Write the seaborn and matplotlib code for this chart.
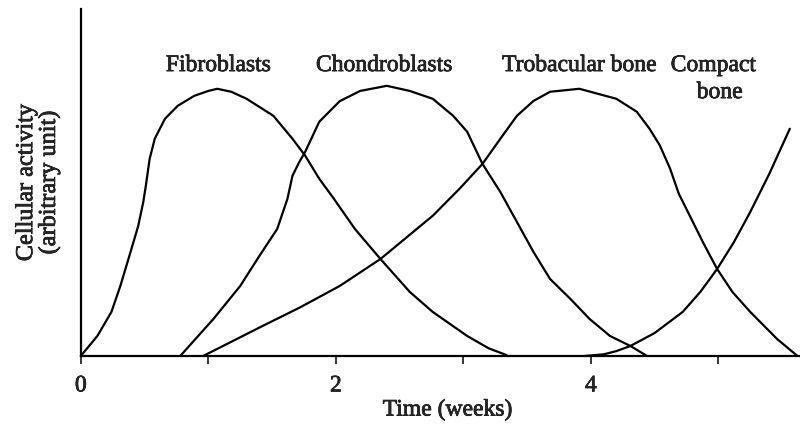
import numpy as np
import pandas as pd
import seaborn as sns
import matplotlib
matplotlib.use("Agg")
import matplotlib.pyplot as plt
import matplotlib.patheffects as pe

# values (time in weeks, activity in arbitrary units)
fibro_t = [0.0, 0.13, 0.24, 0.31, 0.39, 0.45, 0.49, 0.51, 0.54, 0.58, 0.66, 0.76, 0.89,
           1.00, 1.07, 1.18, 1.30, 1.51, 1.66, 1.76, 1.87, 1.98, 2.15, 2.35, 2.58, 2.76,
           3.03, 3.20, 3.34]
fibro_y = [0.0, 7.4, 16.3, 25.9, 38.5, 48.1, 57.0, 63.0, 73.0, 80.4, 87.8, 92.6, 96.3,
           98.1, 98.9, 97.8, 95.2, 88.9, 80.4, 74.1, 65.6, 58.5, 47.0, 35.9, 23.7, 16.3,
           7.4, 2.8, 0.3]

chondro_t = [0.78, 1.04, 1.25, 1.40, 1.54, 1.62, 1.66, 1.71, 1.76, 1.87, 2.03, 2.19,
             2.40, 2.58, 2.76, 2.92, 3.03, 3.15, 3.29, 3.42, 3.55, 3.68, 3.84, 3.99,
             4.15, 4.31, 4.44]
chondro_y = [0.0, 13.7, 25.9, 37.0, 47.0, 58.1, 66.7, 71.5, 75.6, 86.7, 94.3, 98.1,
             100.0, 98.1, 95.2, 88.9, 83.0, 71.1, 60.7, 49.6, 38.5, 28.5, 21.1, 13.7,
             7.4, 3.7, 0.0]

trob_t = [0.96, 1.40, 1.72, 2.03, 2.35, 2.76, 2.97, 3.15, 3.29, 3.42, 3.55, 3.68, 3.91,
          4.20, 4.36, 4.46, 4.54, 4.62, 4.69, 4.78, 4.88, 4.99, 5.11, 5.25, 5.46, 5.62]
trob_y = [0.0, 10.5, 18.0, 25.9, 35.9, 51.9, 61.9, 71.1, 80.4, 88.9, 94.4, 97.8, 98.9,
          95.2, 90.4, 84.1, 78.0, 69.5, 60.0, 51.5, 42.0, 32.2, 23.7, 16.3, 6.3, 0.0]

compact_t = [3.95, 4.10, 4.20, 4.31, 4.50, 4.72, 4.86, 4.99, 5.12, 5.25, 5.40, 5.56]
compact_y = [0.0, 0.6, 1.8, 3.7, 8.5, 16.3, 23.8, 32.2, 42.0, 53.3, 67.5, 84.1]

xtick_pos = [0, 1, 2, 3, 4, 5]
xtick_lab = ["0", "", "2", "", "4", ""]

sns.set_style("ticks")
plt.rcParams['font.family'] = ['Liberation Serif', 'DejaVu Serif']

fig = plt.figure(figsize=(8, 4.27), dpi=100)
ax = fig.add_axes([0.101, 0.164, 0.899, 0.813])

for t, y in [(fibro_t, fibro_y), (chondro_t, chondro_y),
             (trob_t, trob_y), (compact_t, compact_y)]:
    sns.lineplot(x=t, y=y, ax=ax, color="black", linewidth=1.6,
                 sort=False, estimator=None, clip_on=False)

ax.set_xlim(0, 5.64)
ax.set_ylim(0, 128.5)
ax.set_xticks(xtick_pos)
ax.set_xticklabels(xtick_lab)
ax.set_yticks([])
ax.tick_params(axis="x", direction="out", length=6, width=1.3, labelsize=17, pad=8)
for s in ["top", "right"]:
    ax.spines[s].set_visible(False)
for s in ["left", "bottom"]:
    ax.spines[s].set_linewidth(1.6)
    ax.spines[s].set_color("black")

thick = [pe.withStroke(linewidth=0.5, foreground="black")]

ax.set_xlabel("Time (weeks)", fontsize=17, path_effects=thick)
ax.xaxis.set_label_coords(0.51, -0.125)
ax.set_ylabel("Cellular activity\n(arbitrary unit)", fontsize=17.5,
              linespacing=1.1, path_effects=thick)
ax.yaxis.set_label_coords(-0.029, 0.5)
for lab in ax.get_xticklabels():
    lab.set_path_effects(thick)

# curve names
kw = dict(ha="center", va="center", fontsize=17, path_effects=thick)
ax.text(1.08, 107.5, "Fibroblasts", **kw)
ax.text(2.38, 107.5, "Chondroblasts", **kw)
ax.text(3.91, 107.5, "Trobacular bone", **kw)
ax.text(4.96, 107.5, "Compact", **kw)
ax.text(5.01, 97.5, "bone", **kw)

fig.savefig("out.png", dpi=100)
